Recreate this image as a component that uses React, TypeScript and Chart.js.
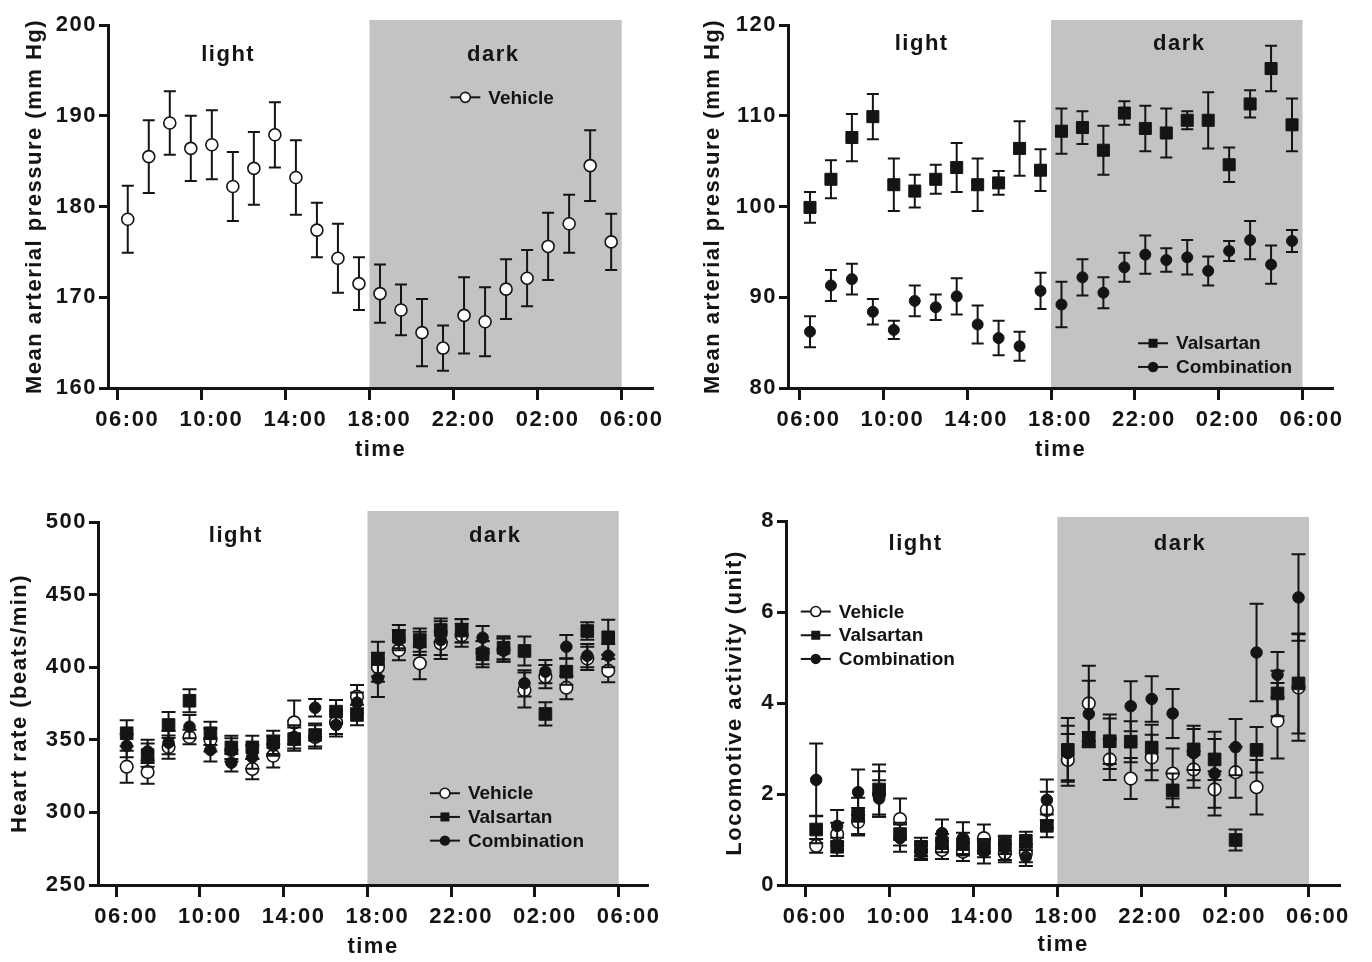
import React, { useEffect, useRef } from 'react';
import { Chart, registerables } from 'chart.js';

Chart.register(...registerables);

// ---------- shared axis data ----------
const HOURS = [6.5, 7.5, 8.5, 9.5, 10.5, 11.5, 12.5, 13.5, 14.5, 15.5, 16.5, 17.5, 18.5, 19.5, 20.5, 21.5, 22.5, 23.5, 24.5, 25.5, 26.5, 27.5, 28.5, 29.5];
const TICK_HOURS = [6, 10, 14, 18, 22, 26, 30];
const TICK_LABELS = ['06:00', '10:00', '14:00', '18:00', '22:00', '02:00', '06:00'];
const DARK_PERIOD = [18, 30];

// ---------- panel A: MAP, vehicle ----------
const MAP_VEHICLE = [178.6, 185.5, 189.2, 186.4, 186.8, 182.2, 184.2, 187.9, 183.2, 177.4, 174.3, 171.5, 170.4, 168.6, 166.1, 164.4, 168.0, 167.3, 170.9, 172.1, 175.6, 178.1, 184.5, 176.1];
const MAP_VEHICLE_SEM = [3.7, 4.0, 3.5, 3.6, 3.8, 3.8, 4.0, 3.6, 4.1, 3.0, 3.8, 2.9, 3.2, 2.8, 3.7, 2.5, 4.2, 3.8, 3.3, 3.1, 3.7, 3.2, 3.9, 3.1];

// ---------- panel B: MAP, valsartan / combination ----------
const MAP_VALSARTAN = [99.9, 103.0, 107.6, 109.9, 102.4, 101.7, 103.0, 104.3, 102.4, 102.6, 106.4, 104.0, 108.3, 108.7, 106.2, 110.3, 108.6, 108.1, 109.5, 109.5, 104.6, 111.3, 115.2, 109.0];
const MAP_VALSARTAN_SEM = [1.7, 2.1, 2.6, 2.5, 2.9, 1.8, 1.6, 2.7, 2.9, 1.3, 3.0, 2.3, 2.5, 1.8, 2.7, 1.3, 2.5, 2.7, 1.0, 3.1, 1.9, 1.5, 2.5, 2.9];
const MAP_COMBINATION = [86.2, 91.3, 92.0, 88.4, 86.4, 89.6, 88.9, 90.1, 87.0, 85.5, 84.6, 90.7, 89.2, 92.2, 90.5, 93.3, 94.7, 94.1, 94.4, 92.9, 95.1, 96.3, 93.6, 96.2];
const MAP_COMBINATION_SEM = [1.7, 1.7, 1.7, 1.4, 1.0, 1.7, 1.4, 2.0, 2.1, 1.9, 1.6, 2.0, 2.5, 2.0, 1.7, 1.6, 2.1, 1.3, 1.9, 1.6, 1.1, 2.1, 2.1, 1.2];

// ---------- panel C: heart rate ----------
const HR_VEHICLE = [331.5, 327.8, 345, 351.9, 350, 343, 329.9, 339, 362, 352, 362, 379.7, 400, 411.8, 402.7, 416.4, 422, 410, 412, 384.3, 393.5, 385.9, 406, 397.6];
const HR_VEHICLE_SEM = [11, 8, 8, 5, 8, 8, 7, 8, 15, 8, 8, 8, 10, 7, 11, 8, 8, 8, 8, 12, 8, 8, 8, 8];
const HR_VALSARTAN = [354.5, 339.5, 360.2, 376.9, 354.5, 344.8, 344.8, 348.3, 350.5, 353.3, 369.4, 367.1, 405.6, 421, 418.7, 425.6, 425.2, 408.9, 413.4, 411.2, 367.8, 396.9, 424.9, 420.6];
const HR_VALSARTAN_SEM = [9, 8, 9, 8, 8, 8, 8, 8, 8, 8, 8, 7, 12, 8, 8, 8, 8, 9, 8, 10, 8, 9, 6, 12];
const HR_COMBINATION = [345.9, 342, 348, 359, 343, 334.2, 338, 346, 352, 372.1, 360.2, 375.6, 392.4, 418.7, 416.4, 418.7, 425, 420.3, 411.8, 388.9, 396.9, 414.1, 407.9, 407.9];
const HR_COMBINATION_SEM = [8, 8, 8, 8, 8, 6, 8, 7, 8, 6, 8, 7, 13, 7, 8, 13, 8, 8, 8, 9, 8, 8, 8, 8];

// ---------- panel D: locomotive activity ----------
const LA_VEHICLE = [0.86, 1.12, 1.39, 2.0, 1.45, 0.73, 0.77, 0.73, 1.03, 0.70, 0.70, 1.65, 2.75, 3.99, 2.76, 2.34, 2.80, 2.45, 2.54, 2.10, 2.48, 2.15, 3.61, 4.34];
const LA_VEHICLE_SEM = [0.15, 0.25, 0.3, 0.5, 0.45, 0.15, 0.2, 0.2, 0.3, 0.2, 0.2, 0.4, 0.57, 0.83, 0.45, 0.45, 0.5, 0.55, 0.4, 0.4, 0.56, 0.6, 0.83, 1.17];
const LA_VALSARTAN = [1.22, 0.84, 1.52, 2.10, 1.12, 0.84, 0.92, 0.90, 0.81, 0.88, 0.97, 1.30, 2.97, 3.21, 3.16, 3.15, 3.02, 2.08, 2.98, 2.76, 0.99, 2.97, 4.21, 4.43];
const LA_VALSARTAN_SEM = [0.3, 0.2, 0.4, 0.55, 0.25, 0.2, 0.2, 0.25, 0.2, 0.2, 0.2, 0.25, 0.7, 0.15, 0.5, 0.45, 0.5, 0.37, 0.45, 0.45, 0.23, 0.5, 0.5, 1.1];
const LA_COMBINATION = [2.31, 1.30, 2.04, 1.9, 1.03, 0.75, 1.14, 1.03, 0.72, 0.8, 0.62, 1.87, 2.9, 3.76, 3.15, 3.93, 4.09, 3.77, 2.9, 2.45, 3.03, 5.11, 4.62, 6.32];
const LA_COMBINATION_SEM = [0.8, 0.35, 0.5, 0.4, 0.3, 0.2, 0.3, 0.35, 0.25, 0.25, 0.2, 0.45, 0.6, 0.73, 0.6, 0.55, 0.5, 0.54, 0.6, 0.92, 0.62, 1.07, 0.5, 0.95];

// ---------- styling ----------
const FONT = '"Liberation Sans", Arial, Helvetica, sans-serif';
const INK = '#141414';
const DARK_FILL = '#c3c3c3';
const CANVAS_W = 686;
const CANVAS_H = 481;

type MarkerKind = 'open' | 'square' | 'dot';

interface Series {
  label: string;
  kind: MarkerKind;
  values: number[];
  errors: number[];
  order: number;
}

interface PanelSpec {
  key: string;
  left: number;
  top: number;
  padding: { left: number; top: number; right: number; bottom: number };
  yWidth: number;
  xHeight: number;
  xMin: number;
  xMax: number;
  yMin: number;
  yMax: number;
  yStep: number;
  yTitle: string;
  labelOffset: number;
  bandTop: number;
  light: { x: number; y: number };
  dark: { x: number; y: number };
  legend: { x: number; y: number };
  markerScale: number;
  cap: number;
  series: Series[];
}

const VEH = (values: number[], errors: number[]): Series => ({ label: 'Vehicle', kind: 'open', values, errors, order: 3 });
const VAL = (values: number[], errors: number[]): Series => ({ label: 'Valsartan', kind: 'square', values, errors, order: 2 });
const COM = (values: number[], errors: number[]): Series => ({ label: 'Combination', kind: 'dot', values, errors, order: 1 });

const PANELS: PanelSpec[] = [
  {
    key: 'A', left: 0, top: 0,
    padding: { left: 22, top: 25, right: 33, bottom: 18 },
    yWidth: 86, xHeight: 75,
    xMin: 5.56, xMax: 31.49,
    yMin: 160, yMax: 200, yStep: 10,
    yTitle: 'Mean arterial pressure (mm Hg)',
    labelOffset: 10, bandTop: 200.55,
    light: { x: 11.28, y: 196.03 }, dark: { x: 23.89, y: 196.03 },
    legend: { x: 22.56, y: 192.03 },
    markerScale: 1, cap: 6,
    series: [VEH(MAP_VEHICLE, MAP_VEHICLE_SEM)],
  },
  {
    key: 'B', left: 686, top: 0,
    padding: { left: 14, top: 25, right: 39, bottom: 18 },
    yWidth: 88, xHeight: 75,
    xMin: 5.451, xMax: 31.455,
    yMin: 80, yMax: 120, yStep: 10,
    yTitle: 'Mean arterial pressure (mm Hg)',
    labelOffset: 9, bandTop: 120.55,
    light: { x: 11.83, y: 117.25 }, dark: { x: 24.12, y: 117.25 },
    legend: { x: 22.87, y: 84.93 },
    markerScale: 1, cap: 6,
    series: [VAL(MAP_VALSARTAN, MAP_VALSARTAN_SEM), COM(MAP_COMBINATION, MAP_COMBINATION_SEM)],
  },
  {
    key: 'C', left: 0, top: 481,
    padding: { left: 7, top: 41, right: 38, bottom: 2 },
    yWidth: 91, xHeight: 75,
    xMin: 5.13, xMax: 31.4,
    yMin: 250, yMax: 500, yStep: 50,
    yTitle: 'Heart rate (beats/min)',
    labelOffset: 10, bandTop: 507.6,
    light: { x: 11.71, y: 486.0 }, dark: { x: 24.1, y: 486.0 },
    legend: { x: 21.7, y: 313.2 },
    markerScale: 1.05, cap: 7,
    series: [VEH(HR_VEHICLE, HR_VEHICLE_SEM), VAL(HR_VALSARTAN, HR_VALSARTAN_SEM), COM(HR_COMBINATION, HR_COMBINATION_SEM)],
  },
  {
    key: 'D', left: 686, top: 481,
    padding: { left: 36, top: 40, right: 32, bottom: 4 },
    yWidth: 64, xHeight: 73,
    xMin: 5.061, xMax: 31.48,
    yMin: 0, yMax: 8, yStep: 2,
    yTitle: 'Locomotive activity (unit)',
    labelOffset: 9, bandTop: 8.09,
    light: { x: 11.24, y: 7.37 }, dark: { x: 23.85, y: 7.37 },
    legend: { x: 6.48, y: 6.01 },
    markerScale: 1.05, cap: 7,
    series: [VEH(LA_VEHICLE, LA_VEHICLE_SEM), VAL(LA_VALSARTAN, LA_VALSARTAN_SEM), COM(LA_COMBINATION, LA_COMBINATION_SEM)],
  },
];

function pointProps(kind: MarkerKind, s: number) {
  if (kind === 'open') {
    return { pointStyle: 'circle', pointRadius: 6 * s, pointBackgroundColor: '#ffffff', pointBorderColor: INK, pointBorderWidth: 1.6 };
  }
  if (kind === 'square') {
    return { pointStyle: 'rect', pointRadius: 8.5 * s, pointBackgroundColor: INK, pointBorderColor: INK, pointBorderWidth: 1 };
  }
  return { pointStyle: 'circle', pointRadius: 5.5 * s, pointBackgroundColor: INK, pointBorderColor: INK, pointBorderWidth: 1 };
}

function drawLegendMarker(ctx: CanvasRenderingContext2D, kind: MarkerKind, x: number, y: number) {
  ctx.save();
  ctx.lineWidth = 1.6;
  ctx.strokeStyle = INK;
  ctx.fillStyle = INK;
  if (kind === 'open') {
    ctx.fillStyle = '#ffffff';
    ctx.beginPath();
    ctx.arc(x, y, 5, 0, Math.PI * 2);
    ctx.fill();
    ctx.stroke();
  } else if (kind === 'square') {
    ctx.fillRect(x - 4.5, y - 4.5, 9, 9);
  } else {
    ctx.beginPath();
    ctx.arc(x, y, 5.2, 0, Math.PI * 2);
    ctx.fill();
  }
  ctx.restore();
}

function makeDecor(spec: PanelSpec) {
  return {
    id: 'decor' + spec.key,
    beforeDraw(chart: any) {
      const { ctx, scales } = chart;
      const xs = scales.x;
      const ys = scales.y;
      ctx.letterSpacing = '1.5px';
      ctx.save();
      ctx.fillStyle = DARK_FILL;
      const x0 = xs.getPixelForValue(DARK_PERIOD[0]);
      const x1 = xs.getPixelForValue(DARK_PERIOD[1]);
      const y0 = ys.getPixelForValue(spec.bandTop);
      const y1 = ys.getPixelForValue(spec.yMin);
      ctx.fillRect(x0, y0, x1 - x0, y1 - y0);
      ctx.restore();
    },
    beforeDatasetDraw(chart: any, args: any) {
      const ds = chart.data.datasets[args.index];
      const errs: number[] = ds.errorBars;
      if (!errs) return;
      const ctx = chart.ctx;
      const ys = chart.scales.y;
      const cap = spec.cap;
      ctx.save();
      ctx.strokeStyle = INK;
      ctx.lineWidth = 2;
      ctx.beginPath();
      args.meta.data.forEach((pt: any, i: number) => {
        const v = ds.data[i].y;
        const e = errs[i];
        const yt = ys.getPixelForValue(v + e);
        const yb = ys.getPixelForValue(v - e);
        ctx.moveTo(pt.x, yt);
        ctx.lineTo(pt.x, yb);
        ctx.moveTo(pt.x - cap, yt);
        ctx.lineTo(pt.x + cap, yt);
        ctx.moveTo(pt.x - cap, yb);
        ctx.lineTo(pt.x + cap, yb);
      });
      ctx.stroke();
      ctx.restore();
    },
    afterDraw(chart: any) {
      const { ctx, scales } = chart;
      const xs = scales.x;
      const ys = scales.y;
      ctx.save();
      ctx.fillStyle = INK;
      ctx.font = `bold 22px ${FONT}`;
      ctx.letterSpacing = '1.5px';
      ctx.textAlign = 'center';
      ctx.textBaseline = 'alphabetic';
      ctx.fillText('light', xs.getPixelForValue(spec.light.x), ys.getPixelForValue(spec.light.y));
      ctx.fillText('dark', xs.getPixelForValue(spec.dark.x), ys.getPixelForValue(spec.dark.y));

      ctx.font = `bold 19px ${FONT}`;
      ctx.letterSpacing = '0px';
      ctx.textAlign = 'left';
      ctx.textBaseline = 'middle';
      const lx = xs.getPixelForValue(spec.legend.x);
      let ly = ys.getPixelForValue(spec.legend.y);
      spec.series.forEach((s) => {
        ctx.strokeStyle = INK;
        ctx.lineWidth = 2;
        ctx.beginPath();
        ctx.moveTo(lx - 15, ly);
        ctx.lineTo(lx + 15, ly);
        ctx.stroke();
        drawLegendMarker(ctx, s.kind, lx, ly);
        ctx.fillStyle = INK;
        ctx.fillText(s.label, lx + 23, ly + 1);
        ly += 23.7;
      });
      ctx.restore();
    },
  };
}

function buildConfig(spec: PanelSpec): any {
  const tickFont = { family: FONT, size: 22, weight: 'bold' as const };
  return {
    type: 'scatter',
    data: {
      datasets: spec.series.map((s) => ({
        label: s.label,
        data: HOURS.map((h, i) => ({ x: h, y: s.values[i] })),
        errorBars: s.errors,
        order: s.order,
        showLine: false,
        ...pointProps(s.kind, spec.markerScale),
      })),
    },
    options: {
      animation: false,
      responsive: false,
      events: [],
      layout: { padding: spec.padding },
      plugins: {
        legend: { display: false },
        tooltip: { enabled: false },
        title: { display: false },
      },
      scales: {
        x: {
          type: 'linear',
          min: spec.xMin,
          max: spec.xMax,
          afterBuildTicks: (scale: any) => {
            scale.ticks = TICK_HOURS.map((value) => ({ value }));
          },
          afterFit: (scale: any) => {
            scale.height = spec.xHeight;
          },
          ticks: {
            callback: (_v: any, i: number) => TICK_LABELS[i],
            color: INK,
            font: tickFont,
            padding: 7,
            labelOffset: spec.labelOffset,
            autoSkip: false,
            maxRotation: 0,
            minRotation: 0,
          },
          grid: {
            display: true,
            drawOnChartArea: false,
            drawTicks: true,
            tickLength: 12,
            tickWidth: 3,
            tickColor: INK,
            color: INK,
          },
          border: { display: true, color: INK, width: 3 },
          title: { display: true, text: 'time', color: INK, font: tickFont, padding: 0 },
        },
        y: {
          type: 'linear',
          min: spec.yMin,
          max: spec.yMax,
          afterFit: (scale: any) => {
            scale.width = spec.yWidth;
          },
          ticks: {
            stepSize: spec.yStep,
            color: INK,
            font: tickFont,
            padding: 2,
          },
          grid: {
            display: true,
            drawOnChartArea: false,
            drawTicks: true,
            tickLength: 9,
            tickWidth: 3,
            tickColor: INK,
            color: INK,
          },
          border: { display: true, color: INK, width: 3 },
          title: { display: true, text: spec.yTitle, color: INK, font: tickFont, padding: 0 },
        },
      },
    },
    plugins: [makeDecor(spec)],
  };
}

function Panel({ spec }: { spec: PanelSpec }) {
  const ref = useRef<HTMLCanvasElement | null>(null);
  useEffect(() => {
    if (!ref.current) return;
    const chart = new Chart(ref.current, buildConfig(spec));
    return () => {
      chart.destroy();
    };
  }, [spec]);
  return (
    <canvas
      ref={ref}
      width={CANVAS_W}
      height={CANVAS_H}
      style={{ position: 'absolute', left: spec.left, top: spec.top, width: CANVAS_W, height: CANVAS_H }}
    />
  );
}

export default function App() {
  return (
    <div
      style={{
        position: 'absolute',
        left: 0,
        top: 0,
        width: 1372,
        height: 962,
        background: '#ffffff',
        overflow: 'hidden',
      }}
    >
      {PANELS.map((p) => (
        <Panel key={p.key} spec={p} />
      ))}
    </div>
  );
}
